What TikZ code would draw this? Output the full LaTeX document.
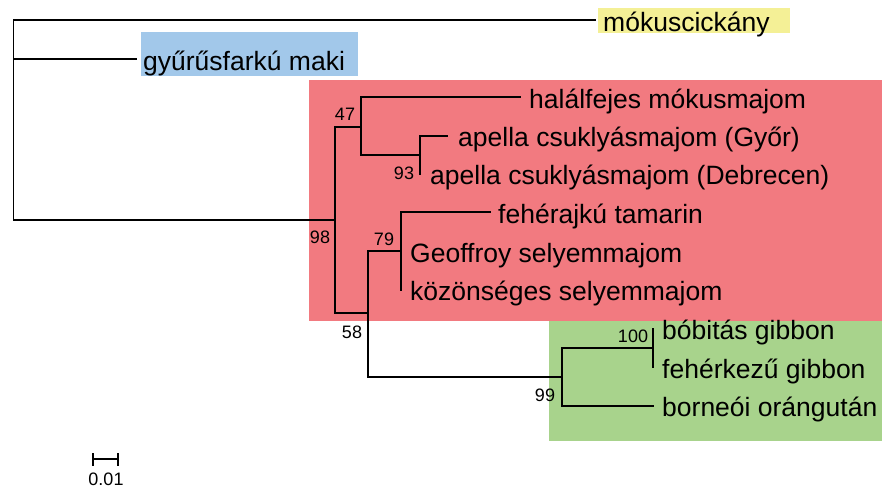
\documentclass[tikz,border=0pt]{standalone}
\usepackage{fontspec}
\setmainfont{Liberation Sans}
\definecolor{tagyellow}{RGB}{244,240,150}
\definecolor{tagblue}{RGB}{162,200,234}
\definecolor{tagred}{RGB}{242,122,128}
\definecolor{taggreen}{RGB}{168,211,140}
\tikzset{
  branch/.style={line width=1.8pt, line cap=rect, black},
  taxon/.style={anchor=base west, inner sep=0pt, font=\fontsize{26.5}{30}\selectfont},
  support/.style={inner sep=0pt, font=\fontsize{18}{20}\selectfont},
  cladebox/.style={draw=none}
}
\begin{document}
\begin{tikzpicture}[x=1pt, y=-1pt]
\useasboundingbox (0,0) rectangle (882,496);

% clade highlight boxes
\fill[tagred]    (309,80)  rectangle (882,321);
\fill[taggreen]  (549,321) rectangle (882,441);
\fill[tagblue]   (141,32)  rectangle (358,76);
\fill[tagyellow] (598,8)   rectangle (790,33);

% internal nodes
\coordinate (root) at (13.5,120);
\coordinate (n98)  at (335,220);
\coordinate (n47)  at (361,127);
\coordinate (n93)  at (420,155);
\coordinate (n58)  at (368,313);
\coordinate (n79)  at (401,251);
\coordinate (n99)  at (562,377);
\coordinate (n100) at (653,348);

% tips
\coordinate (tMok) at (595,20);
\coordinate (tGyu) at (136,59);
\coordinate (tHal) at (520,97);
\coordinate (tGyo) at (447,136);
\coordinate (tDeb) at (420,174);
\coordinate (tFeh) at (490,212);
\coordinate (tGeo) at (401,251);
\coordinate (tKoz) at (401,290);
\coordinate (tBob) at (653,329);
\coordinate (tFkz) at (653,367);
\coordinate (tBor) at (653,406);

% branches
\draw[branch] (root) |- (tMok);
\draw[branch] (root) |- (tGyu);
\draw[branch] (root) |- (n98);
\draw[branch] (n98) |- (n47);
\draw[branch] (n98) |- (n58);
\draw[branch] (n47) |- (tHal);
\draw[branch] (n47) |- (n93);
\draw[branch] (n93) |- (tGyo);
\draw[branch] (n93) |- (tDeb);
\draw[branch] (n58) |- (n79);
\draw[branch] (n58) |- (n99);
\draw[branch] (n79) |- (tFeh);
\draw[branch] (n79) |- (tGeo);
\draw[branch] (n79) |- (tKoz);
\draw[branch] (n99) |- (n100);
\draw[branch] (n99) |- (tBor);
\draw[branch] (n100) |- (tBob);
\draw[branch] (n100) |- (tFkz);

% taxon labels
\node[taxon] (lMok) at (603,31)  {mókuscickány};
\node[taxon] (lGyu) at (143,70.5){gyűrűsfarkú maki};
\node[taxon] (lHal) at (529,108) {halálfejes mókusmajom};
\node[taxon] (lGyo) at (458,146.5) {apella csuklyásmajom (Győr)};
\node[taxon] (lDeb) at (430,184.5) {apella csuklyásmajom (Debrecen)};
\node[taxon] (lFeh) at (498,223.5) {fehérajkú tamarin};
\node[taxon] (lGeo) at (410,262) {Geoffroy selyemmajom};
\node[taxon] (lKoz) at (410,300.5) {közönséges selyemmajom};
\node[taxon] (lBob) at (662,339.5) {bóbitás gibbon};
\node[taxon] (lFkz) at (662,378) {fehérkezű gibbon};
\node[taxon] (lBor) at (662,416.5) {borneói orángután};

% bootstrap support values
\node[support] (s98)  at (320,237.5) {98};
\node[support] (s47)  at (345,114)   {47};
\node[support] (s93)  at (404,173)   {93};
\node[support] (s58)  at (352,332)   {58};
\node[support] (s79)  at (384,239)   {79};
\node[support] (s99)  at (545,395)   {99};
\node[support] (s100) at (633,336)   {100};

% scale bar
\coordinate (sbL) at (93,459);
\coordinate (sbR) at (118,459);
\draw[line width=1.6pt] (sbL) -- (sbR);
\draw[line width=1.6pt] ([yshift=-6.5pt]sbL) -- ([yshift=6.5pt]sbL);
\draw[line width=1.6pt] ([yshift=-6.5pt]sbR) -- ([yshift=6.5pt]sbR);
\node[support] (sbT) at (106,479) {0.01};
\end{tikzpicture}
\end{document}
